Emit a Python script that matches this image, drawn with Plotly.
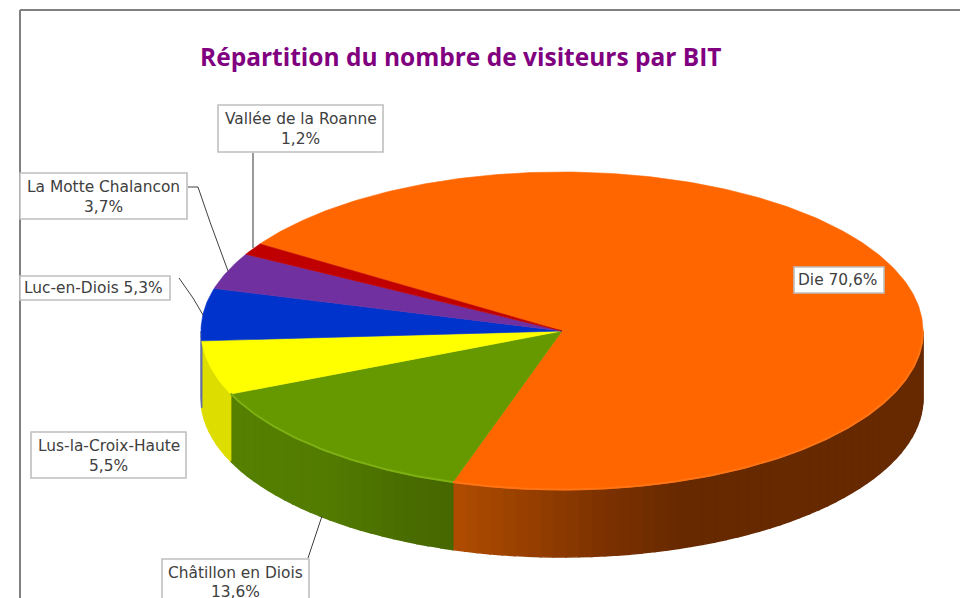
import math
import plotly.graph_objects as go

categories = ["Die", "Châtillon en Diois", "Lus-la-Croix-Haute", "Luc-en-Diois", "La Motte Chalancon", "Vallée de la Roanne"]
values = [70.6, 13.6, 5.5, 5.3, 3.7, 1.2]
value_labels = ["70,6%", "13,6%", "5,5%", "5,3%", "3,7%", "1,2%"]
colors = ["#FF6600", "#669900", "#FFFF00", "#0033CC", "#7030A0", "#C00000"]
rim_colors = ["#FF7414", "#7DB012", "#FFFF00", "#0033CC", "#7030A0", "#C00000"]

CX, CY, RX, RY, DEPTH = 562, 331, 361, 159, 67
START = 303.2


def pt(a, dy=0):
    r = math.radians(a)
    return CX + RX * math.sin(r), CY - RY * math.cos(r) + dy


def lerp_hex(stops, x):
    if x <= stops[0][0]:
        return stops[0][1]
    for (x0, c0), (x1, c1) in zip(stops, stops[1:]):
        if x <= x1:
            t = (x - x0) / (x1 - x0)
            a = [int(c0[i:i + 2], 16) for i in (1, 3, 5)]
            b = [int(c1[i:i + 2], 16) for i in (1, 3, 5)]
            return "#%02X%02X%02X" % tuple(round(p + (q - p) * t) for p, q in zip(a, b))
    return stops[-1][1]


side_stops = [
    [(455, "#B04C00"), (530, "#963F00"), (610, "#7A3000"), (690, "#662900"), (930, "#662900")],
    [(233, "#558000"), (330, "#527B00"), (400, "#4A6D00"), (455, "#466600")],
    [(200, "#DDDD00"), (240, "#DDDD00")],
    [(190, "#6070A0"), (240, "#6070A0")],
    [(190, "#5A2680"), (240, "#5A2680")],
    [(190, "#990000"), (240, "#990000")],
]

fig = go.Figure()


def poly(xs, ys, color, lw=0.6):
    fig.add_trace(go.Scatter(x=xs, y=ys, mode="lines", fill="toself", fillcolor=color,
                             line=dict(color=color, width=lw), hoverinfo="skip", showlegend=False))


# slice angle spans, clockwise from the top
total = sum(values)
spans = []
a = START
for v in values:
    b = a + v / total * 360
    spans.append((a, b))
    a = b

# side wall: only the front half (90..270 degrees) is visible
for i, (a0, a1) in enumerate(spans):
    for shift in (0, -360, 360):
        lo, hi = max(a0 + shift, 90), min(a1 + shift, 270)
        if lo >= hi:
            continue
        n = max(1, int((hi - lo) / 2))
        for k in range(n):
            p = lo + (hi - lo) * k / n
            q = lo + (hi - lo) * (k + 1) / n
            x0, y0 = pt(p)
            x1, y1 = pt(q)
            x0b, y0b = pt(p, DEPTH)
            x1b, y1b = pt(q, DEPTH)
            poly([x0, x1, x1b, x0b, x0], [y0, y1, y1b, y0b, y0],
                 lerp_hex(side_stops[i], (x0 + x1) / 2), 1.5)

# top face
for i, (a0, a1) in enumerate(spans):
    n = max(4, int((a1 - a0) / 0.75))
    pts = [pt(a0 + (a1 - a0) * k / n) for k in range(n + 1)]
    poly([CX] + [p[0] for p in pts] + [CX], [CY] + [p[1] for p in pts] + [CY], colors[i])

# lit rim along the front edge of the top face
for i, (a0, a1) in enumerate(spans):
    for shift in (0, -360, 360):
        lo, hi = max(a0 + shift, 90), min(a1 + shift, 270)
        if lo >= hi or i > 1:
            continue
        n = max(4, int((hi - lo) / 0.75))
        pts = [pt(lo + (hi - lo) * k / n, -0.5) for k in range(n + 1)]
        fig.add_trace(go.Scatter(x=[p[0] for p in pts], y=[p[1] for p in pts], mode="lines",
                                 line=dict(color=rim_colors[i], width=2), hoverinfo="skip",
                                 showlegend=False))

shapes = [
    dict(type="line", x0=20, x1=960, y0=10, y1=10, line=dict(color="#808080", width=2)),
    dict(type="line", x0=20, x1=20, y0=10, y1=598, line=dict(color="#808080", width=2)),
]

leaders = [
    ([253, 253], [153, 248], "#808080", 1.6),
    ([188, 198, 210, 228], [187, 187, 222, 271], "#404040", 1),
    ([179, 193, 203], [278, 298, 315], "#404040", 1),
    ([308, 322], [558, 516], "#404040", 1),
]
for xs, ys, c, w in leaders:
    fig.add_trace(go.Scatter(x=xs, y=ys, mode="lines", line=dict(color=c, width=w),
                             hoverinfo="skip", showlegend=False))

# label boxes: category index, x0, x1, y0, y1, one or two lines
boxes = [
    (5, 218, 383, 105, 152, True),
    (4, 20, 187, 173, 219, True),
    (3, 20, 170, 276, 300, False),
    (2, 31, 186, 432, 478, True),
    (1, 162, 309, 559, 625, True),
    (0, 794, 884, 267, 293, False),
]
FONT = dict(family="DejaVu Sans", size=15.4, color="#404040")
annotations = []
for idx, x0, x1, y0, y1, two in boxes:
    shapes.append(dict(type="rect", x0=x0, x1=x1, y0=y0, y1=y1, fillcolor="white",
                       line=dict(color="#BFBFBF", width=1.6), layer="above"))
    cx = (x0 + x1) / 2
    if two:
        annotations.append(dict(x=cx, y=y0 + 13.5, text=categories[idx], showarrow=False, font=FONT))
        annotations.append(dict(x=cx, y=y0 + (32.5 if y1 > 598 else 34), text=value_labels[idx],
                                showarrow=False, font=FONT))
    else:
        annotations.append(dict(x=cx - 2, y=(y0 + y1) / 2, text=categories[idx] + " " + value_labels[idx],
                                showarrow=False, font=FONT))

annotations.append(dict(x=461, y=56, text="<b>Répartition du nombre de visiteurs par BIT</b>",
                        showarrow=False, font=dict(family="Open Sans", size=24.5, color="#800080")))

fig.update_layout(
    width=960, height=598, margin=dict(l=0, r=0, t=0, b=0),
    paper_bgcolor="white", plot_bgcolor="white", showlegend=False,
    xaxis=dict(range=[0, 960], visible=False, fixedrange=True),
    yaxis=dict(range=[598, 0], visible=False, fixedrange=True),
    shapes=shapes, annotations=annotations,
)
fig.write_html("out.html", config={"displayModeBar": False},
               post_script="document.body.style.margin='0';document.documentElement.style.overflow='hidden';")
